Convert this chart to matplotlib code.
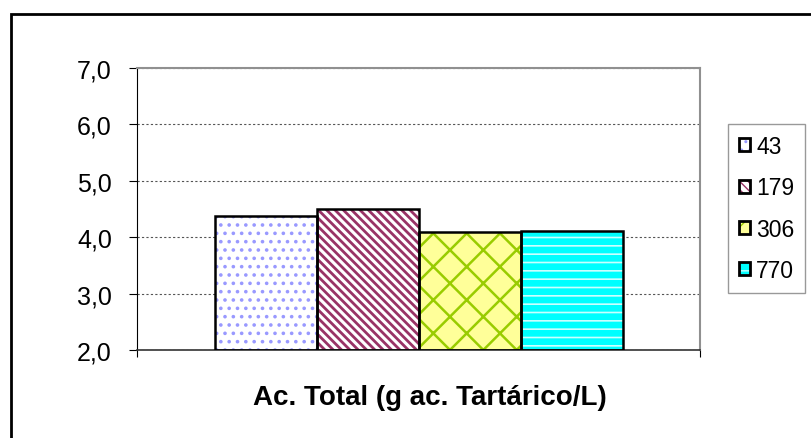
import matplotlib
matplotlib.use("Agg")
import matplotlib.pyplot as plt
from matplotlib.patches import Patch, Rectangle
from matplotlib.legend_handler import HandlerTuple
from matplotlib.ticker import FuncFormatter

# valores
series = ['43', '179', '306', '770']
values = [4.37, 4.50, 4.09, 4.11]
xlabel = 'Ac. Total (g ac. Tartárico/L)'
ymin, ymax = 2.0, 7.0

# estilo de cada serie: (relleno, color de trama, trama, grosor de trama)
styles = [
    ('white', '#9999ff', '..', 1.4),
    ('white', '#993366', '\\\\\\\\', 2.0),
    ('#ffff99', '#99cc00', 'x', 1.8),
    ('#00ffff', '#ccffff', '--', 1.2),
]

plt.rcParams['font.family'] = ['Liberation Sans', 'DejaVu Sans']

fig = plt.figure(figsize=(8.11, 4.39), dpi=100)
ax = fig.add_axes([137 / 811, 88 / 439, 563 / 811, 282 / 439])

handles = []
for i, (name, val) in enumerate(zip(series, values)):
    face, hcol, hatch, hlw = styles[i]
    with plt.rc_context({'hatch.linewidth': hlw}):
        ax.bar(i, val - ymin, bottom=ymin, width=1.0, color=face,
               edgecolor=hcol, hatch=hatch, linewidth=0, zorder=2)
    ax.bar(i, val - ymin, bottom=ymin, width=1.0, fill=False,
           edgecolor='black', linewidth=1.8, zorder=3)
    with plt.rc_context({'hatch.linewidth': hlw}):
        h1 = Patch(facecolor=face, edgecolor=hcol, hatch=hatch, linewidth=0)
    h2 = Patch(fill=False, edgecolor='black', linewidth=2.0)
    handles.append((h1, h2))

half = 281.5 / 102
ax.set_xlim(1.5 - half, 1.5 + half)
ax.set_ylim(ymin, ymax)
ax.set_yticks([2, 3, 4, 5, 6, 7])
ax.yaxis.set_major_formatter(FuncFormatter(lambda v, p: f'{v:.1f}'.replace('.', ',')))
ax.set_xticks([1.5 - half, 1.5 + half])
ax.set_xticklabels(['', ''])
ax.tick_params(axis='y', direction='out', length=6, width=0.8, pad=12,
               labelsize=18, colors='black')
ax.tick_params(axis='x', direction='out', length=5, width=0.8)

ax.yaxis.grid(True, linestyle=(0, (2, 2)), color='#555555', linewidth=0.8, zorder=1)
ax.set_axisbelow(True)

for s in ['top', 'right']:
    ax.spines[s].set_color('#909090')
    ax.spines[s].set_linewidth(1.5)
ax.spines['left'].set_color('black')
ax.spines['left'].set_linewidth(0.8)
ax.spines['bottom'].set_color('#333333')
ax.spines['bottom'].set_linewidth(1.2)

leg = fig.legend(handles, series, handler_map={tuple: HandlerTuple(ndivide=1)},
                 loc='upper left', bbox_to_anchor=(728 / 811, 1 - 125 / 439),
                 fontsize=16.5, handlelength=0.5, handleheight=0.5,
                 handletextpad=0.25, labelspacing=0.8, borderpad=0.48,
                 borderaxespad=0, frameon=True, fancybox=False)
leg.get_frame().set_edgecolor('#808080')
leg.get_frame().set_linewidth(1.0)

fig.text(430 / 811, 1 - 398 / 439, xlabel, ha='center', va='center',
         fontsize=20, fontweight='bold')

# marco exterior del gráfico
fig.patches.append(Rectangle((10.5 / 811, -0.1), 1.1, 1 - 14.5 / 439 + 0.1,
                             transform=fig.transFigure, fill=False,
                             edgecolor='black', linewidth=2.0))

fig.savefig('out.png', dpi=100)
